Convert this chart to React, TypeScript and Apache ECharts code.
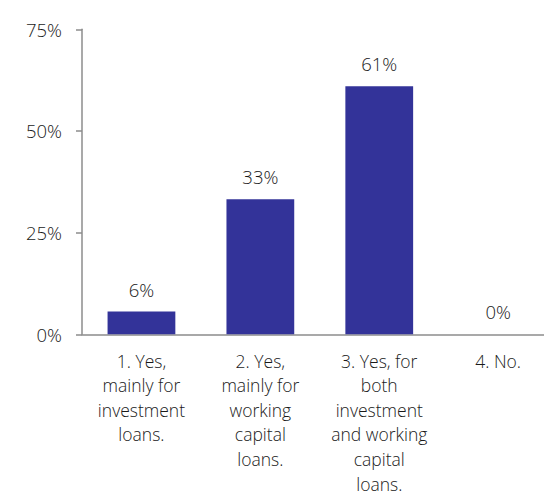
import React, { useEffect, useRef } from "react";
import * as echarts from "echarts";

const categories = [
  "1. Yes,\nmainly for\ninvestment\nloans.",
  "2. Yes,\nmainly for\nworking\ncapital\nloans.",
  "3. Yes, for\nboth\ninvestment\nand working\ncapital\nloans.",
  "4. No.",
];
const values = [5.6, 33.2, 61, 0];
const valueLabels = ["6%", "33%", "61%", "0%"];
const yTicks = [0, 25, 50, 75];

const FONT = "'Open Sans', 'Noto Sans', sans-serif";

export default function App() {
  const ref = useRef<HTMLDivElement>(null);
  useEffect(() => {
    if (!ref.current) return;
    const chart = echarts.init(ref.current, undefined, { renderer: "svg" });
    chart.setOption({
      animation: false,
      grid: {
        left: 82,
        top: 29.3,
        width: 475.6,
        height: 305,
        containLabel: false,
        outerBoundsMode: "none",
      },
      xAxis: {
        type: "category",
        data: categories,
        axisLine: { lineStyle: { color: "#8c8c8c", width: 1.5 } },
        axisTick: { show: false },
        axisLabel: {
          interval: 0,
          color: "#1a1a1a",
          fontSize: 17.5,
          fontWeight: 300,
          fontFamily: FONT,
          lineHeight: 24.6,
          margin: 14,
          align: "center",
        },
      },
      yAxis: {
        type: "value",
        min: yTicks[0],
        max: yTicks[yTicks.length - 1],
        interval: 25,
        splitLine: { show: false },
        axisLine: { show: true, lineStyle: { color: "#8c8c8c", width: 1.5 } },
        axisTick: { show: true, length: 6, lineStyle: { color: "#8c8c8c", width: 1.5 } },
        axisLabel: {
          formatter: "{value}%",
          color: "#1a1a1a",
          fontSize: 18.5,
          fontWeight: 300,
          fontFamily: FONT,
          margin: 20,
        },
      },
      series: [
        {
          type: "bar",
          data: values,
          barWidth: "57%",
          itemStyle: { color: "#333399" },
          label: {
            show: true,
            position: "top",
            distance: 13,
            color: "#1a1a1a",
            fontSize: 18.5,
            fontWeight: 300,
            fontFamily: FONT,
            formatter: (p: any) => valueLabels[p.dataIndex],
          },
        },
      ],
    });
    return () => chart.dispose();
  }, []);
  return (
    <div
      ref={ref}
      style={{ position: "fixed", left: 0, top: 0, width: 544, height: 497, background: "#fff" }}
    />
  );
}
